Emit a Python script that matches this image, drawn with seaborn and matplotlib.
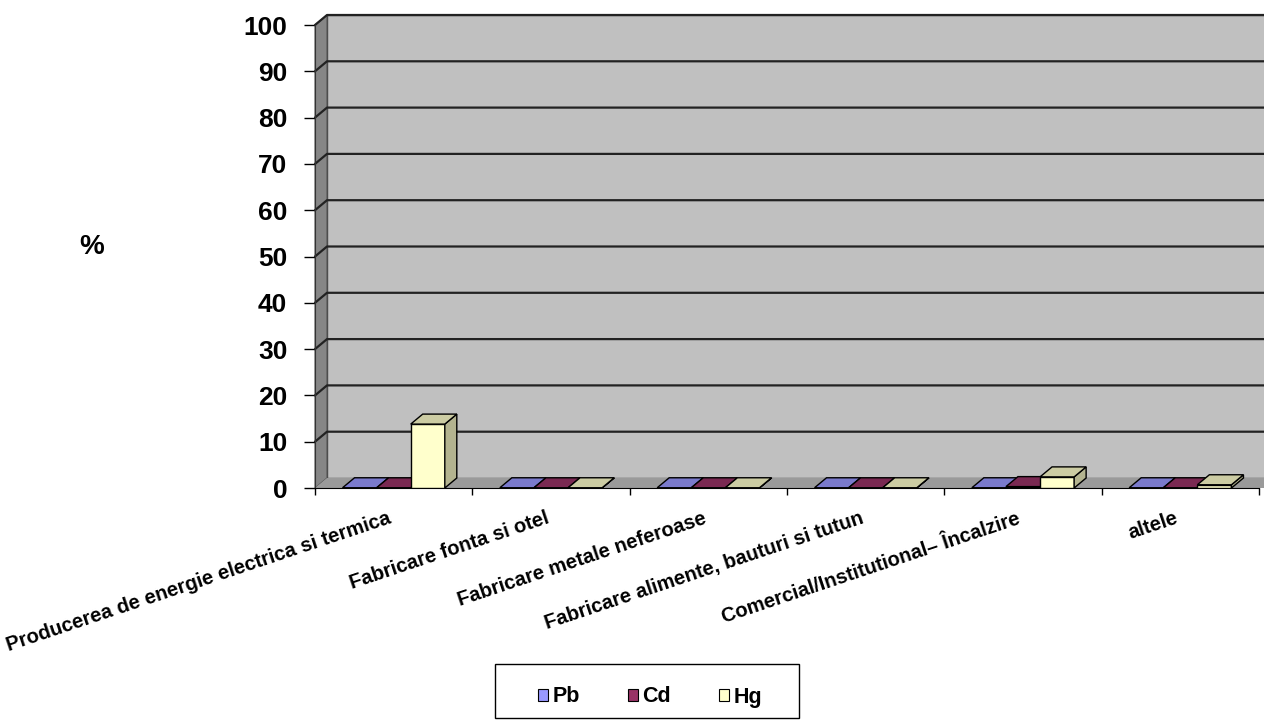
import numpy as np
import pandas as pd
import matplotlib
matplotlib.use("Agg")
import matplotlib.pyplot as plt
from matplotlib.patches import Polygon, Rectangle, Patch
import matplotlib.colors as mcolors
import seaborn as sns

# ── data ─────────────────────────────────────────────
categories = [
    "Producerea de energie electrica si termica",
    "Fabricare fonta si otel",
    "Fabricare metale neferoase",
    "Fabricare alimente, bauturi si tutun",
    "Comercial/Institutional– Încalzire",
    "altele",
]
metals = ["Pb", "Cd", "Hg"]
pb = [0.05, 0.05, 0.05, 0.05, 0.05, 0.05]
cd = [0.05, 0.05, 0.05, 0.05, 0.3, 0.05]
hg = [13.8, 0.05, 0.05, 0.05, 2.4, 0.7]
yticks = list(range(0, 101, 10))

colors = {"Pb": "#9999FF", "Cd": "#993366", "Hg": "#FFFFCC"}

df = pd.DataFrame({
    "cat": categories * 3,
    "metal": [m for m in metals for _ in categories],
    "val": pb + cd + hg,
})

# ── figure ───────────────────────────────────────────
sns.set_style("white")
plt.rcParams["font.family"] = ["Liberation Sans", "DejaVu Sans"]
plt.rcParams["font.weight"] = "bold"
plt.rcParams["text.color"] = "black"
plt.rcParams["xtick.color"] = "black"
plt.rcParams["ytick.color"] = "black"

W, H = 1264, 723
fig = plt.figure(figsize=(W / 100, H / 100), dpi=100, facecolor="white")
# axes in pixel geometry: x 315..1259, y 25..488 (from top)
ax = fig.add_axes([315 / W, 1 - 488 / H, 944 / W, 463 / H])
ax.set_facecolor("none")

sns.barplot(data=df, x="cat", y="val", hue="metal", palette=colors,
            width=0.65, edgecolor="black", linewidth=1.0, saturation=1,
            legend=False, ax=ax, zorder=3)

ax.set_xlim(-0.5, 5.5)
ax.set_ylim(0, 100)

# depth offsets (pixels -> data)
px_x = 944 / 6.0
px_y = 463 / 100.0
DX, DY = 12 / px_x, 10 / px_y
x0, x1 = -0.5, 5.5

# walls
side = Polygon([(x0, 0), (x0 + DX, DY), (x0 + DX, 100 + DY), (x0, 100)],
               closed=True, facecolor="#868686", edgecolor="#555555", lw=0.8,
               zorder=0.5, clip_on=False)
back = Rectangle((x0 + DX, DY), 7, 100, facecolor="#C0C0C0", edgecolor="#444444",
                 lw=1, zorder=0.4, clip_on=False)
floor = Polygon([(x0, 0), (x0 + DX, DY), (x1 + 2, DY), (x1 + 2, 0)],
                closed=True, facecolor="#9A9A9A", edgecolor="none",
                zorder=0.6, clip_on=False)
for p in (back, side, floor):
    ax.add_patch(p)

for v in yticks[1:]:
    ax.plot([x0, x0 + DX, x1 + 2], [v, v + DY, v + DY], color="#222222",
            lw=1.6, zorder=1, clip_on=False)


def shade(c, f):
    r, g, b = mcolors.to_rgb(c)
    return (r * f, g * f, b * f)


# 3d faces on bars
bars = sorted([p for p in ax.patches if isinstance(p, Rectangle) and p.get_zorder() == 3],
              key=lambda p: p.get_x())
for k, bar in enumerate(bars):
    bx, bw, bh = bar.get_x(), bar.get_width(), bar.get_height()
    c = bar.get_facecolor()
    z = 3 + k * 0.01
    bar.set_zorder(z)
    top = Polygon([(bx, bh), (bx + bw, bh), (bx + bw + DX, bh + DY), (bx + DX, bh + DY)],
                  closed=True, facecolor=shade(c, 0.8), edgecolor="black", lw=1.0,
                  zorder=z, clip_on=False)
    sd = Polygon([(bx + bw, 0), (bx + bw + DX, DY), (bx + bw + DX, bh + DY), (bx + bw, bh)],
                 closed=True, facecolor=shade(c, 0.7), edgecolor="black", lw=1.0,
                 zorder=z, clip_on=False)
    ax.add_patch(sd)
    ax.add_patch(top)

# axes styling
for s in ["top", "right"]:
    ax.spines[s].set_visible(False)
ax.spines["left"].set_color("#333333")
ax.spines["bottom"].set_color("black")
ax.spines["left"].set_zorder(2)
ax.spines["bottom"].set_zorder(2)

ax.set_yticks(yticks)
ax.set_yticklabels([str(v) for v in yticks], fontsize=19, fontweight="bold")
ax.tick_params(axis="y", direction="out", length=8, width=1, pad=12, left=True)

ax.set_xticks(range(len(categories)))
ax.set_xticklabels(categories, rotation=18.5, ha="right", va="top",
                   fontsize=14.5, fontweight="bold")
ax.set_xticks(np.arange(-0.5, 6.0, 1.0), minor=True)
ax.tick_params(axis="x", which="major", length=0, pad=15)
ax.tick_params(axis="x", which="minor", direction="out", length=5, width=1,
               bottom=True)
ax.set_xlabel("")
ax.set_ylabel("")
ax.grid(False)

fig.text(92 / W, 1 - 247 / H, "%", fontsize=20, fontweight="bold",
         ha="center", va="center")

# legend
fig.patches.append(Rectangle((495 / W, 1 - 718 / H), 304 / W, 54 / H,
                             transform=fig.transFigure, facecolor="white",
                             edgecolor="black", lw=1))
handles = [Patch(facecolor=colors[m], edgecolor="black", lw=0.8, label=m) for m in metals]
fig.legend(handles=handles, loc="center", bbox_to_anchor=(650 / W, 1 - 697 / H),
           ncol=3, frameon=False, prop={"weight": "bold", "size": 15.5},
           handlelength=0.5, handleheight=0.5, handletextpad=0.2,
           columnspacing=2.2)

fig.savefig("out.png", dpi=100, facecolor="white")
